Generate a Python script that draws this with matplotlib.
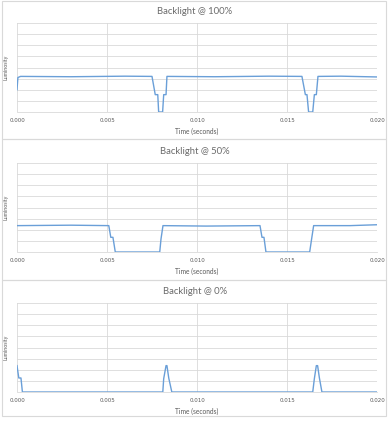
import matplotlib
matplotlib.use("Agg")
import matplotlib.pyplot as plt
from matplotlib.patches import Rectangle

plt.rcParams['font.family'] = ['Lato', 'DejaVu Sans']

titles = ["Backlight @ 100%", "Backlight @ 50%", "Backlight @ 0%"]

t100 = [0.0, 0.00005, 0.0002, 0.003, 0.006, 0.0075, 0.00768, 0.00782, 0.00787,
        0.00809, 0.00815, 0.00828, 0.00833, 0.011, 0.014, 0.01583, 0.01602,
        0.01611, 0.0162, 0.01643, 0.01652, 0.01663, 0.01672, 0.018, 0.020]
l100 = [2.0, 3.1, 3.2, 3.17, 3.22, 3.2, 1.56, 1.56, 0.0,
        0.0, 1.56, 1.56, 3.2, 3.17, 3.22, 3.2, 1.56,
        1.56, 0.0, 0.0, 1.56, 1.56, 3.2, 3.22, 3.15]

t50 = [0.0, 0.003, 0.0051, 0.00521, 0.00533, 0.00546, 0.00793, 0.00800, 0.00811,
       0.0105, 0.0135, 0.01361, 0.01372, 0.01383, 0.01626, 0.01637, 0.01648,
       0.0185, 0.020]
l50 = [2.37, 2.41, 2.37, 1.32, 1.32, 0.0, 0.0, 1.17, 2.37,
       2.33, 2.37, 1.32, 1.32, 0.0, 0.0, 1.2, 2.37,
       2.37, 2.45]

t0 = [0.0, 0.0001, 0.00022, 0.0003, 0.0081, 0.00815, 0.00828, 0.00833, 0.00843,
      0.0086, 0.01643, 0.01652, 0.01663, 0.0167, 0.0168, 0.01694, 0.020]
l0 = [2.37, 1.26, 1.26, 0.0, 0.0, 1.2, 2.37, 2.37, 1.26,
      0.0, 0.0, 1.2, 2.37, 2.37, 1.26, 0.0, 0.0]

xticks = [0.000, 0.005, 0.010, 0.015, 0.020]
xticklabels = ["0.000", "0.005", "0.010", "0.015", "0.020"]

W, H = 390, 421
fig = plt.figure(figsize=(W / 100, H / 100), dpi=100)
fig.patch.set_facecolor("white")

series = [(t100, l100), (t50, l50), (t0, l0)]
panel_tops = [1, 139, 280]
panel_h = [138, 141, 136]

for i, (t, l) in enumerate(series):
    top = panel_tops[i]
    fig.patches.append(Rectangle((2 / W, 1 - (top + panel_h[i]) / H), 384 / W, panel_h[i] / H,
                                 transform=fig.transFigure, fill=False,
                                 edgecolor="#d9d9d9", linewidth=0.8))
    off = [0, 140, 280][i]
    ax_l, ax_r = 17, 377
    ax_t, ax_b = off + 23, off + 112
    ax = fig.add_axes([ax_l / W, 1 - ax_b / H, (ax_r - ax_l) / W, (ax_b - ax_t) / H])
    ax.plot(t, l, color="#6a9fd8", linewidth=1.0, solid_joinstyle="round")
    ax.set_xlim(0, 0.020)
    ax.set_ylim(0, 8)
    ax.set_yticks(range(0, 9))
    ax.set_yticklabels([])
    ax.set_xticks(xticks)
    ax.set_xticklabels(xticklabels, fontsize=4.0, color="#595959",
                       family=['DejaVu Sans'])
    ax.tick_params(axis="both", length=0, pad=4)
    ax.grid(True, color="#d9d9d9", linewidth=0.6)
    ax.set_axisbelow(True)
    for s in ["top", "right", "left"]:
        ax.spines[s].set_visible(False)
    ax.spines["bottom"].set_color("#d9d9d9")
    ax.spines["bottom"].set_linewidth(0.6)
    ax.set_xlabel("Time (seconds)", fontsize=4.8, color="#595959", labelpad=4)
    ax.set_ylabel("Luminosity", fontsize=3.8, color="#595959", labelpad=2)
    fig.text(0.5, 1 - (off + 11) / H, titles[i], ha="center", va="center",
             fontsize=6.8, color="#6b6b6b")

fig.savefig("out.png", dpi=100, facecolor="white")
